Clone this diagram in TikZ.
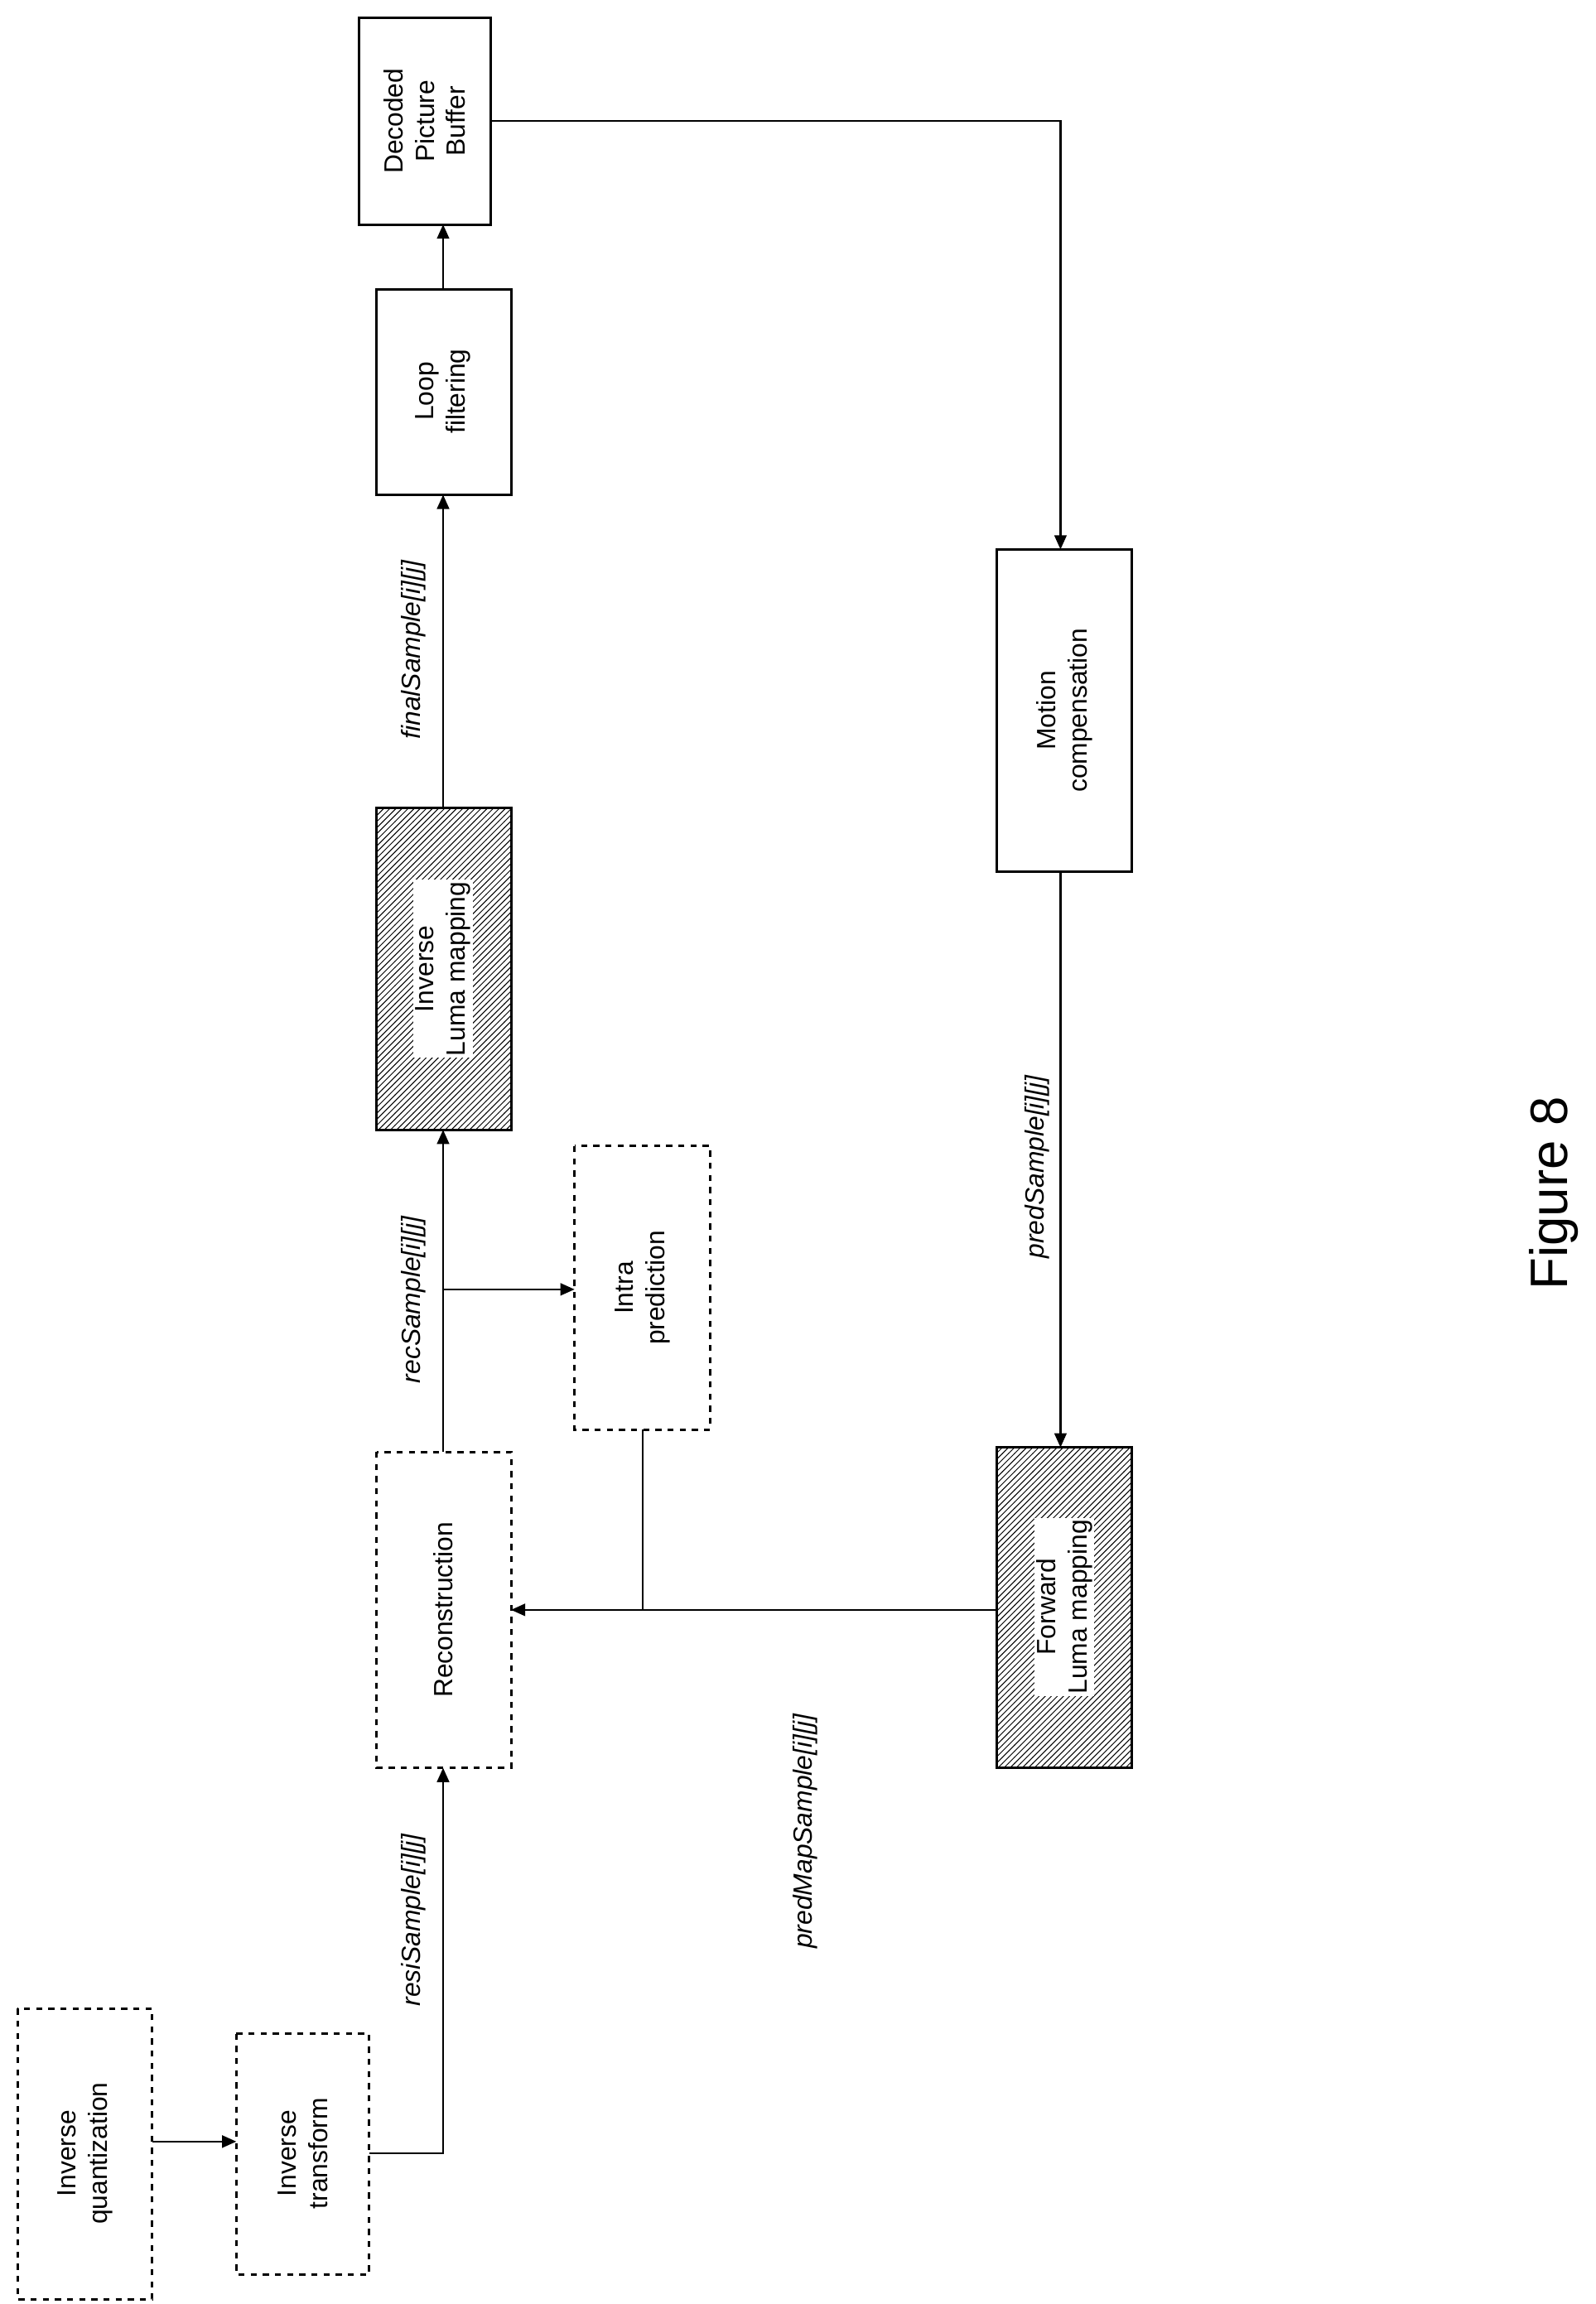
\documentclass[tikz,border=0pt]{standalone}
\usepackage{fontspec}
\setmainfont{Liberation Sans}
\usetikzlibrary{patterns,arrows.meta}
\begin{document}
\begin{tikzpicture}[x=0.02564cm,y=-0.02564cm,
  box/.style={draw,line width=1.2pt,minimum width=91*0.02564cm},
  dbox/.style={box,dashed},
  hbox/.style={box,pattern=north east lines},
  txt/.style={rotate=90,align=center,font=\fontsize{13}{15.5}\selectfont},
  lbl/.style={rotate=90,font=\fontsize{13}{15}\selectfont\itshape},
  arr/.style={line width=1pt,-{Triangle[length=7pt,width=6pt]}},
  ln/.style={line width=1pt}]
\useasboundingbox (0,0) rectangle (1080,1560);
% boxes as rectangles
\draw[dbox] (12,1360) rectangle (103,1557) coordinate (iqc);
\node[txt] (iq) at (57.5,1458) {Inverse\\quantization};
\draw[dbox] (160,1377) rectangle (250,1540);
\node[txt] (it) at (205,1458) {Inverse\\transform};
\draw[dbox] (255,983) rectangle (346,1197);
\node[txt] (rec) at (300,1090) {Reconstruction};
\draw[dbox] (389,776) rectangle (481,968);
\node[txt] (ip) at (435,872) {Intra\\prediction};
\draw[hbox] (255,547) rectangle (346,765);
\node[txt,fill=white,inner sep=1pt] (ilm) at (300,656) {Inverse\\Luma mapping};
\draw[box] (255,196) rectangle (346,335);
\node[txt] (lf) at (300,265) {Loop\\filtering};
\draw[box] (243,12) rectangle (332,152);
\node[txt] (dpb) at (287.5,82) {Decoded\\Picture\\Buffer};
\draw[box] (675,372) rectangle (766,590);
\node[txt] (mc) at (720.5,481) {Motion\\compensation};
\draw[hbox] (675,980) rectangle (766,1197);
\node[txt,fill=white,inner sep=1pt] (flm) at (720.5,1088) {Forward\\Luma mapping};
% connectors
\coordinate (a1) at (103,1450); \coordinate (a2) at (160,1450);
\draw[arr] (a1) -- (a2);
\coordinate (b1) at (250,1458); \coordinate (b2) at (300,1458); \coordinate (b3) at (300,1197);
\draw[arr] (b1) -- (b2) -- (b3);
\coordinate (c1) at (300,983); \coordinate (c2) at (300,765);
\draw[arr] (c1) -- (c2);
\coordinate (br) at (300,873); \coordinate (ipl) at (389,873);
\draw[arr] (br) -- (ipl);
\coordinate (d1) at (300,547); \coordinate (d2) at (300,335);
\draw[arr] (d1) -- (d2);
\coordinate (e1) at (300,196); \coordinate (e2) at (300,152);
\draw[arr] (e1) -- (e2);
\coordinate (f1) at (332,82); \coordinate (f2) at (718,82); \coordinate (f3) at (718,372);
\draw[arr] (f1) -- (f2) -- (f3);
\coordinate (g1) at (718,590); \coordinate (g2) at (718,980);
\draw[arr] (g1) -- (g2);
\coordinate (h1) at (675,1090); \coordinate (h2) at (346,1090);
\draw[arr] (h1) -- (h2);
\coordinate (i1) at (435,968); \coordinate (i2) at (435,1090);
\draw[ln] (i1) -- (i2);
% labels
\node[lbl] at (280,1300) {resiSample[i][j]};
\node[lbl] at (280,880) {recSample[i][j]};
\node[lbl] at (280,440) {finalSample[i][j]};
\node[lbl] at (702,790) {predSample[i][j]};
\node[lbl] at (545,1240) {predMapSample[i][j]};
\node[rotate=90,font=\fontsize{26}{30}\selectfont] at (1052,808) {Figure 8};
\end{tikzpicture}
\end{document}
